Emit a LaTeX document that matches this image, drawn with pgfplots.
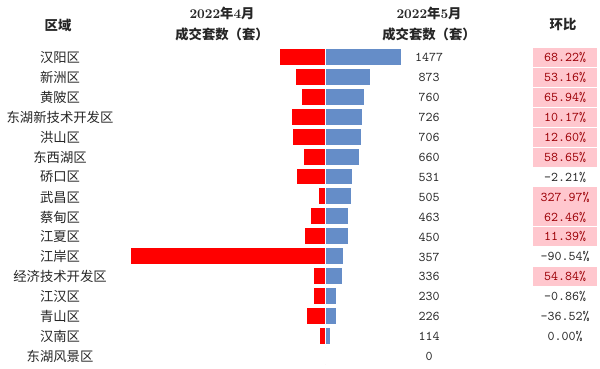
\documentclass[border=0pt]{standalone}
\usepackage{pgfplots}
\pgfplotsset{compat=1.18}
\usepackage{pgfplotstable}
\usepackage{fontspec}
\newfontfamily\cjk{Noto Sans CJK SC}
\definecolor{redbar}{HTML}{FF0000}
\definecolor{bluebar}{HTML}{658DC8}
\definecolor{pinkbg}{HTML}{FFC7CE}
\definecolor{pinktx}{HTML}{9C0006}
\definecolor{txt}{HTML}{262626}

\pgfplotstableread{
idx apr may
0 878 1477
1 570 873
2 458 760
3 659 726
4 627 706
5 416 660
6 543 531
7 118 505
8 285 463
9 404 450
10 3774 357
11 217 336
12 232 230
13 356 226
14 114 114
15 0 0
}\data

\begin{document}
\begin{tikzpicture}[every node/.style={font=\fontsize{10}{12}\selectfont, text=txt}]
\begin{axis}[
  scale only axis, width=450pt, height=276.75pt,
  hide axis, clip=false,
  xmin=-6298, xmax=5329, ymin=-2.84, ymax=15.64, y dir=reverse,
  xbar, bar width=0.85, bar shift=0pt,
]
\addplot[xbar, bar shift=0pt, fill=redbar, draw=white, line width=0.75pt]
  table[x expr=-\thisrow{apr}, y=idx]{\data};
\addplot[xbar, bar shift=0pt, fill=bluebar, draw=white, line width=0.75pt]
  table[x=may, y=idx]{\data};
\end{axis}
\begin{scope}[x=0.75pt, y=-0.75pt, shift={(0pt,276.75pt)}]
\node at (58,25) {\cjk\bfseries 区域};
\node at (222,13) {\bfseries 2022{\cjk 年}4{\cjk 月}};
\node at (222,34) {\cjk\bfseries 成交套数（套）};
\node at (429,13) {\bfseries 2022{\cjk 年}5{\cjk 月}};
\node at (429,34) {\cjk\bfseries 成交套数（套）};
\node at (563,25) {\cjk\bfseries 环比};
\foreach \n/\v/\c/\p [count=\i from 0] in {
  汉阳区/1477/68.22/1, 新洲区/873/53.16/1, 黄陂区/760/65.94/1,
  东湖新技术开发区/726/10.17/1, 洪山区/706/12.60/1, 东西湖区/660/58.65/1,
  硚口区/531/-2.21/0, 武昌区/505/327.97/1, 蔡甸区/463/62.46/1,
  江夏区/450/11.39/1, 江岸区/357/-90.54/0, 经济技术开发区/336/54.84/1,
  江汉区/230/-0.86/0, 青山区/226/-36.52/0, 汉南区/114/0.00/0, 东湖风景区/0//0}{
  \pgfmathsetmacro\yy{57.2+19.97*\i}
  \node at (60,\yy) {\cjk \n};
  \node at (429,\yy) {\ttfamily \v};
  \ifnum\p=1
    \node[fill=pinkbg, text=pinktx, minimum width=48pt, minimum height=14.3pt, inner sep=0pt] at (565,\yy) {\ttfamily \c\%};
  \else
    \ifx\c\empty\else\node at (565,\yy) {\ttfamily \c\%};\fi
  \fi
}
\end{scope}
\pgfresetboundingbox
\path (current axis.south west) rectangle (current axis.north east);
\end{tikzpicture}
\end{document}
